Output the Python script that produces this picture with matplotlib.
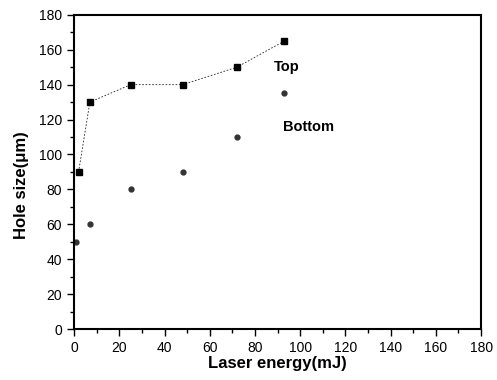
#hole size vs laser energy, top and bottom of the hole

import numpy as np
import matplotlib.pyplot as plt
from matplotlib.ticker import MultipleLocator

plt.rcParams['font.family'] = ['Liberation Sans', 'DejaVu Sans']

#data
energy_top = [2, 7, 25, 48, 72, 93]
size_top = [90, 130, 140, 140, 150, 165]
energy_bottom = [1, 7, 25, 48, 72, 93]
size_bottom = [50, 60, 80, 90, 110, 135]

fig = plt.figure(figsize=(4.97, 3.80), dpi=100)
ax = fig.add_axes([0.149, 0.134, 0.819, 0.827])

ax.plot(energy_top, size_top, color='#222222', linestyle=(0, (2, 2)), linewidth=0.6,
        marker='s', markersize=5, markerfacecolor='black', markeredgecolor='black',
        clip_on=False)
ax.plot(energy_bottom, size_bottom, linestyle='none', marker='o', markersize=3.5,
        color='#333333', clip_on=False)

ax.text(94, 150, 'Top', fontsize=10.5, fontweight='bold', ha='center', va='center')
ax.text(103.5, 116, 'Bottom', fontsize=10.5, fontweight='bold', ha='center', va='center')

ax.set_xlim(0, 180)
ax.set_ylim(0, 180)
ax.xaxis.set_major_locator(MultipleLocator(20))
ax.xaxis.set_minor_locator(MultipleLocator(10))
ax.yaxis.set_major_locator(MultipleLocator(20))
ax.yaxis.set_minor_locator(MultipleLocator(10))
ax.tick_params(which='major', direction='out', length=5, width=1, labelsize=10)
ax.tick_params(which='minor', direction='out', length=3, width=1)
for s in ax.spines.values():
    s.set_linewidth(1.5)

ax.set_xlabel('Laser energy(mJ)', fontsize=12, fontweight='bold', labelpad=1)
ax.set_ylabel('Hole size(\u03bcm)', fontsize=12, fontweight='bold')
ax.yaxis.set_label_coords(-0.11, 0.459)

fig.savefig('out.png', dpi=100)
